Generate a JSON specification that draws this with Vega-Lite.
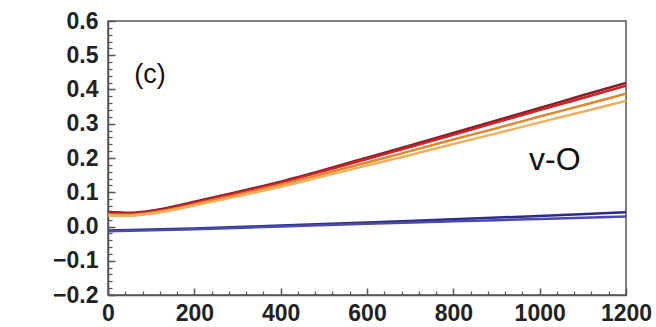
{
  "$schema": "https://vega.github.io/schema/vega-lite/v6.json",
  "width": 518,
  "height": 274,
  "autosize": "none",
  "padding": {"left": 108, "top": 21, "right": 30, "bottom": 32},
  "background": "white",
  "config": {
    "view": {"stroke": "#555", "strokeWidth": 1.5},
    "axis": {
      "grid": false,
      "domainColor": "#555",
      "domainWidth": 1.5,
      "tickColor": "#555",
      "labelFont": "Liberation Sans",
      "labelFontWeight": "bold",
      "labelFontSize": 23,
      "labelColor": "#222",
      "title": null
    }
  },
  "datasets": {
    "curves": [
      {"series": "a", "x": 0, "y": 0.042}, {"series": "a", "x": 50, "y": 0.040}, {"series": "a", "x": 100, "y": 0.046}, {"series": "a", "x": 150, "y": 0.058}, {"series": "a", "x": 200, "y": 0.072}, {"series": "a", "x": 300, "y": 0.101}, {"series": "a", "x": 400, "y": 0.131}, {"series": "a", "x": 500, "y": 0.165}, {"series": "a", "x": 600, "y": 0.201}, {"series": "a", "x": 700, "y": 0.237}, {"series": "a", "x": 800, "y": 0.273}, {"series": "a", "x": 900, "y": 0.310}, {"series": "a", "x": 1000, "y": 0.346}, {"series": "a", "x": 1100, "y": 0.383}, {"series": "a", "x": 1200, "y": 0.419},
      {"series": "b", "x": 0, "y": 0.039}, {"series": "b", "x": 50, "y": 0.037}, {"series": "b", "x": 100, "y": 0.043}, {"series": "b", "x": 150, "y": 0.055}, {"series": "b", "x": 200, "y": 0.069}, {"series": "b", "x": 300, "y": 0.098}, {"series": "b", "x": 400, "y": 0.128}, {"series": "b", "x": 500, "y": 0.162}, {"series": "b", "x": 600, "y": 0.197}, {"series": "b", "x": 700, "y": 0.232}, {"series": "b", "x": 800, "y": 0.268}, {"series": "b", "x": 900, "y": 0.304}, {"series": "b", "x": 1000, "y": 0.340}, {"series": "b", "x": 1100, "y": 0.375}, {"series": "b", "x": 1200, "y": 0.411},
      {"series": "c", "x": 0, "y": 0.035}, {"series": "c", "x": 50, "y": 0.034}, {"series": "c", "x": 100, "y": 0.040}, {"series": "c", "x": 150, "y": 0.051}, {"series": "c", "x": 200, "y": 0.065}, {"series": "c", "x": 300, "y": 0.093}, {"series": "c", "x": 400, "y": 0.122}, {"series": "c", "x": 500, "y": 0.154}, {"series": "c", "x": 600, "y": 0.187}, {"series": "c", "x": 700, "y": 0.220}, {"series": "c", "x": 800, "y": 0.254}, {"series": "c", "x": 900, "y": 0.287}, {"series": "c", "x": 1000, "y": 0.321}, {"series": "c", "x": 1100, "y": 0.354}, {"series": "c", "x": 1200, "y": 0.388},
      {"series": "d", "x": 0, "y": 0.032}, {"series": "d", "x": 50, "y": 0.031}, {"series": "d", "x": 100, "y": 0.037}, {"series": "d", "x": 150, "y": 0.048}, {"series": "d", "x": 200, "y": 0.061}, {"series": "d", "x": 300, "y": 0.088}, {"series": "d", "x": 400, "y": 0.116}, {"series": "d", "x": 500, "y": 0.147}, {"series": "d", "x": 600, "y": 0.178}, {"series": "d", "x": 700, "y": 0.209}, {"series": "d", "x": 800, "y": 0.241}, {"series": "d", "x": 900, "y": 0.272}, {"series": "d", "x": 1000, "y": 0.304}, {"series": "d", "x": 1100, "y": 0.335}, {"series": "d", "x": 1200, "y": 0.367},
      {"series": "e", "x": 0, "y": -0.012}, {"series": "e", "x": 200, "y": -0.006}, {"series": "e", "x": 400, "y": 0.003}, {"series": "e", "x": 600, "y": 0.012}, {"series": "e", "x": 800, "y": 0.021}, {"series": "e", "x": 1000, "y": 0.031}, {"series": "e", "x": 1200, "y": 0.042},
      {"series": "f", "x": 0, "y": -0.014}, {"series": "f", "x": 200, "y": -0.008}, {"series": "f", "x": 400, "y": 0.000}, {"series": "f", "x": 600, "y": 0.008}, {"series": "f", "x": 800, "y": 0.015}, {"series": "f", "x": 1000, "y": 0.022}, {"series": "f", "x": 1200, "y": 0.029}
    ],
    "labels": [
      {"label": "(c)", "x": 97, "y": 0.442, "size": 27},
      {"label": "v-O", "x": 1035, "y": 0.194, "size": 32}
    ],
    "minor": [{"x": 0, "y": 0}]
  },
  "layer": [
    {
      "data": {"name": "curves"},
      "mark": {"type": "line", "interpolate": "monotone", "clip": true},
      "encoding": {
        "x": {
          "field": "x", "type": "quantitative",
          "scale": {"domain": [0, 1200], "nice": false},
          "axis": {"orient": "bottom", "values": [0, 200, 400, 600, 800, 1000, 1200], "format": "d", "tickSize": -7, "tickWidth": 1.5, "labelPadding": 14, "labelFlush": false}
        },
        "y": {
          "field": "y", "type": "quantitative",
          "scale": {"domain": [-0.2, 0.6], "nice": false, "zero": false},
          "axis": {"orient": "left", "values": [-0.2, -0.1, 0, 0.1, 0.2, 0.3, 0.4, 0.5, 0.6], "format": ".1f", "tickSize": -7, "tickWidth": 1.5, "labelPadding": 17, "labelFlush": false}
        },
        "color": {
          "field": "series", "type": "nominal", "legend": null,
          "scale": {"domain": ["a", "b", "c", "d", "e", "f"], "range": ["#8e1b1f", "#c8242c", "#e0862c", "#eeb060", "#2b2b8c", "#4a4aa8"]}
        },
        "strokeWidth": {
          "field": "series", "type": "nominal", "legend": null,
          "scale": {"domain": ["a", "b", "c", "d", "e", "f"], "range": [2.5, 2.5, 2, 1.8, 2.2, 1.8]}
        }
      }
    },
    {
      "data": {"name": "minor"},
      "mark": {"type": "point", "opacity": 0},
      "encoding": {
        "x": {
          "field": "x", "type": "quantitative",
          "axis": {"orient": "bottom", "values": [40, 80, 120, 160, 240, 280, 320, 360, 440, 480, 520, 560, 640, 680, 720, 760, 840, 880, 920, 960, 1040, 1080, 1120, 1160], "tickSize": -4, "tickWidth": 1.2, "labels": false, "domain": false}
        },
        "y": {
          "field": "y", "type": "quantitative",
          "axis": {"orient": "left", "values": [-0.18, -0.16, -0.14, -0.12, -0.08, -0.06, -0.04, -0.02, 0.02, 0.04, 0.06, 0.08, 0.12, 0.14, 0.16, 0.18, 0.22, 0.24, 0.26, 0.28, 0.32, 0.34, 0.36, 0.38, 0.42, 0.44, 0.46, 0.48, 0.52, 0.54, 0.56, 0.58], "tickSize": -4, "tickWidth": 1.2, "labels": false, "domain": false}
        }
      }
    },
    {
      "data": {"name": "labels"},
      "mark": {"type": "text", "font": "Liberation Sans", "color": "#111", "align": "center", "baseline": "middle"},
      "encoding": {
        "x": {"field": "x", "type": "quantitative", "axis": null},
        "y": {"field": "y", "type": "quantitative", "axis": null},
        "text": {"field": "label"},
        "size": {"field": "size", "type": "quantitative", "scale": null, "legend": null}
      }
    }
  ],
  "resolve": {"axis": {"x": "independent", "y": "independent"}}
}
